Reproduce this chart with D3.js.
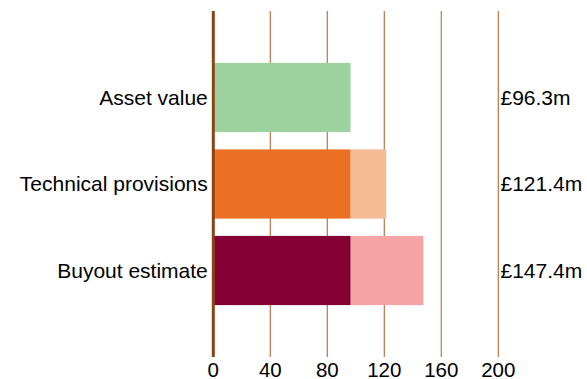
<!DOCTYPE html>
<html>
<head>
<meta charset="utf-8">
<script src="https://cdn.jsdelivr.net/npm/d3@7"></script>
<style>
  html, body { margin: 0; padding: 0; background: #fff; }
  svg { display: block; font-family: "Liberation Sans", Arial, sans-serif; }
</style>
</head>
<body>
<svg id="chart" width="587" height="379"></svg>
<script>
// Pension scheme funding measures (£m)
const categories = ["Asset value", "Technical provisions", "Buyout estimate"];
const assetValues = [96.3, 96.3, 96.3];
const totalValues = [96.3, 121.4, 147.4];
const valueLabels = ["£96.3m", "£121.4m", "£147.4m"];
const tickValues = [0, 40, 80, 120, 160, 200];

const baseColors = ["#9dd29f", "#ec7024", "#850034"];
const deficitColors = ["#9dd29f", "#f4bc92", "#f6a3a3"];

const svg = d3.select("#chart");
const plot = { left: 213.3, right: 498.3, top: 11, bottom: 357 };

const x = d3.scaleLinear().domain([0, 200]).range([plot.left, plot.right]);
const y = d3.scaleBand().domain(categories).range([plot.top, plot.bottom])
  .paddingInner(0.2).paddingOuter(0.6);

// Vertical gridlines
svg.append("g").selectAll("line").data(tickValues.filter(d => d > 0)).join("line")
  .attr("x1", d => x(d)).attr("x2", d => x(d))
  .attr("y1", plot.top).attr("y2", plot.bottom)
  .attr("stroke", "#b8754a").attr("stroke-width", 1.2);

// Deficit segments (total minus assets)
svg.append("g").selectAll("rect").data(categories).join("rect")
  .attr("x", (d, i) => x(assetValues[i]))
  .attr("y", d => y(d))
  .attr("width", (d, i) => x(totalValues[i]) - x(assetValues[i]))
  .attr("height", y.bandwidth())
  .attr("fill", (d, i) => deficitColors[i]);

// Asset segments
svg.append("g").selectAll("rect").data(categories).join("rect")
  .attr("x", x(0))
  .attr("y", d => y(d))
  .attr("width", (d, i) => x(assetValues[i]) - x(0))
  .attr("height", y.bandwidth())
  .attr("fill", (d, i) => baseColors[i]);

// Zero axis line
svg.append("line")
  .attr("x1", x(0)).attr("x2", x(0)).attr("y1", plot.top).attr("y2", plot.bottom)
  .attr("stroke", "#8b4513").attr("stroke-width", 3);

// Category labels
svg.append("g").selectAll("text").data(categories).join("text")
  .attr("x", x(0) - 5.5)
  .attr("y", d => y(d) + y.bandwidth() / 2)
  .attr("dy", "0.35em")
  .attr("text-anchor", "end")
  .attr("font-size", 21)
  .attr("fill", "#000")
  .text(d => d);

// Value labels
svg.append("g").selectAll("text").data(categories).join("text")
  .attr("x", 500.5)
  .attr("y", d => y(d) + y.bandwidth() / 2)
  .attr("dy", "0.35em")
  .attr("font-size", 21)
  .attr("fill", "#000")
  .text((d, i) => valueLabels[i]);

// Tick labels
svg.append("g").selectAll("text").data(tickValues).join("text")
  .attr("x", d => x(d))
  .attr("y", 376.5)
  .attr("text-anchor", "middle")
  .attr("font-size", 20.5)
  .attr("fill", "#000")
  .text(d => d);
</script>
</body>
</html>
